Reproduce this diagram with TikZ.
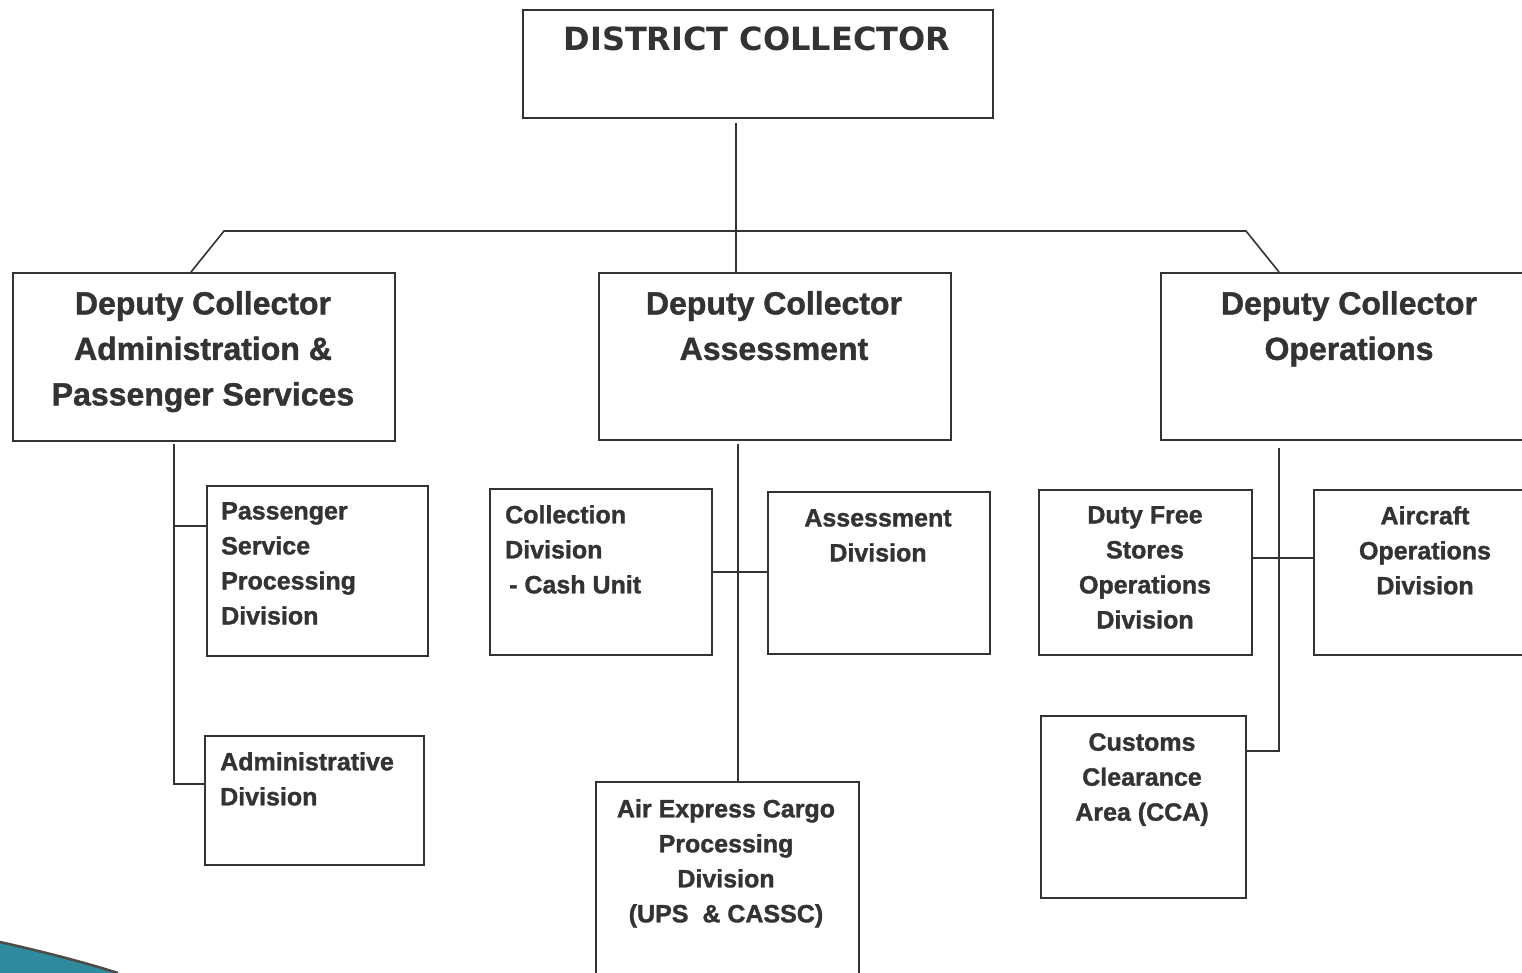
\documentclass[tikz,border=0pt]{standalone}
\usepackage{fontspec}
\newfontfamily\impf{Liberation Sans}[BoldFeatures={FakeBold=1.3}]
\newfontfamily\verdf{DejaVu Sans}
\usetikzlibrary{calc}
\definecolor{ink}{HTML}{333333}
\definecolor{tealA}{HTML}{2E8A9C}
\definecolor{edgeA}{HTML}{4E4A44}
\begin{document}
\begin{tikzpicture}[x=1pt,y=-1pt,
 box/.style={draw=ink, line width=1.8pt, anchor=north west, inner sep=0pt},
 bigtxt/.style={font=\impf\bfseries\fontsize{32}{45.5}\selectfont, text=ink, align=center, anchor=north, inner sep=0pt},
 smalltxt/.style={font=\impf\bfseries\fontsize{25}{35}\selectfont, text=ink, align=center, anchor=north, inner sep=0pt},
 lefttxt/.style={smalltxt, align=left, anchor=north west},
 conn/.style={draw=ink, line width=1.6pt}]
\useasboundingbox (0,0) rectangle (1522,973);
\clip (0,0) rectangle (1522,973);
\fill[white] (0,0) rectangle (1522,973);
% boxes
\node[box, minimum width=470pt, minimum height=108pt] (dc) at (522,9) {};
\node[box, minimum width=382pt, minimum height=168pt] (dca) at (12,272) {};
\node[box, minimum width=352pt, minimum height=167pt] (dcs) at (598,272) {};
\node[box, minimum width=400pt, minimum height=167pt] (dco) at (1160,272) {};
\node[box, minimum width=221pt, minimum height=170pt] (psd) at (206,485) {};
\node[box, minimum width=219pt, minimum height=129pt] (adm) at (204,735) {};
\node[box, minimum width=222pt, minimum height=166pt] (col) at (489,488) {};
\node[box, minimum width=222pt, minimum height=162pt] (asd) at (767,491) {};
\node[box, minimum width=263pt, minimum height=220pt] (air) at (595,781) {};
\node[box, minimum width=213pt, minimum height=165pt] (dfs) at (1038,489) {};
\node[box, minimum width=240pt, minimum height=165pt] (acd) at (1313,489) {};
\node[box, minimum width=205pt, minimum height=182pt] (cca) at (1040,715) {};
% texts
\node[font=\verdf\bfseries\fontsize{32}{38}\selectfont, text=ink, anchor=north, inner sep=0pt] (tdc) at (757,27) {DISTRICT COLLECTOR};
\node[bigtxt] (tdca) at (203,291) {Deputy Collector\\Administration \&\\Passenger Services};
\node[bigtxt] (tdcs) at (774,291) {Deputy Collector\\Assessment};
\node[bigtxt] (tdco) at (1349,291) {Deputy Collector\\Operations};
\node[lefttxt] (tpsd) at (221,502) {Passenger\\Service\\Processing\\Division};
\node[lefttxt] (tadm) at (220,752) {Administrative\\Division};
\node[lefttxt] (tcol) at (505,505) {Collection\\Division\\\hspace{4pt}- Cash Unit};
\node[smalltxt] (tasd) at (878,509) {Assessment\\Division};
\node[smalltxt] (tair) at (726,799) {Air Express Cargo\\Processing\\Division\\(UPS \ \& CASSC)};
\node[smalltxt] (tdfs) at (1145,506) {Duty Free\\Stores\\Operations\\Division};
\node[smalltxt] (tacd) at (1425,506) {Aircraft\\Operations\\Division};
\node[smalltxt] (tcca) at (1142,733) {Customs\\Clearance\\Area (CCA)};
% connectors
\coordinate (t0) at (736,123);
\coordinate (hl) at (224,231);
\coordinate (hr) at (1246,231);
\coordinate (sl) at (191,272);
\coordinate (sr) at (1279,272);
\draw[conn] (t0) -- (t0 |- dcs.north);
\draw[conn] (sl) -- (hl) -- (hr) -- (sr);
\coordinate (l1) at (174,444); \coordinate (l2) at (174,526); \coordinate (l3) at (174,784);
\draw[conn] (l1) -- (l3) -- (l3 -| adm.west);
\draw[conn] (l2) -- (l2 -| psd.west);
\coordinate (m1) at (738,444); \coordinate (m2) at (738,572);
\draw[conn] (m1) -- (m1 |- air.north);
\draw[conn] (col.east |- m2) -- (asd.west |- m2);
\coordinate (r1) at (1279,448); \coordinate (r2) at (1279,558); \coordinate (r3) at (1279,751);
\draw[conn] (r1) -- (r3) -- (r3 -| cca.east);
\draw[conn] (dfs.east |- r2) -- (acd.west |- r2);
% swoosh
\fill[tealA] (0,942) .. controls (40,951) and (80,961) .. (118,973) -- (0,973) -- cycle;
\draw[edgeA, line width=2.5pt] (0,942) .. controls (40,951) and (80,961) .. (118,973);
\end{tikzpicture}
\end{document}
